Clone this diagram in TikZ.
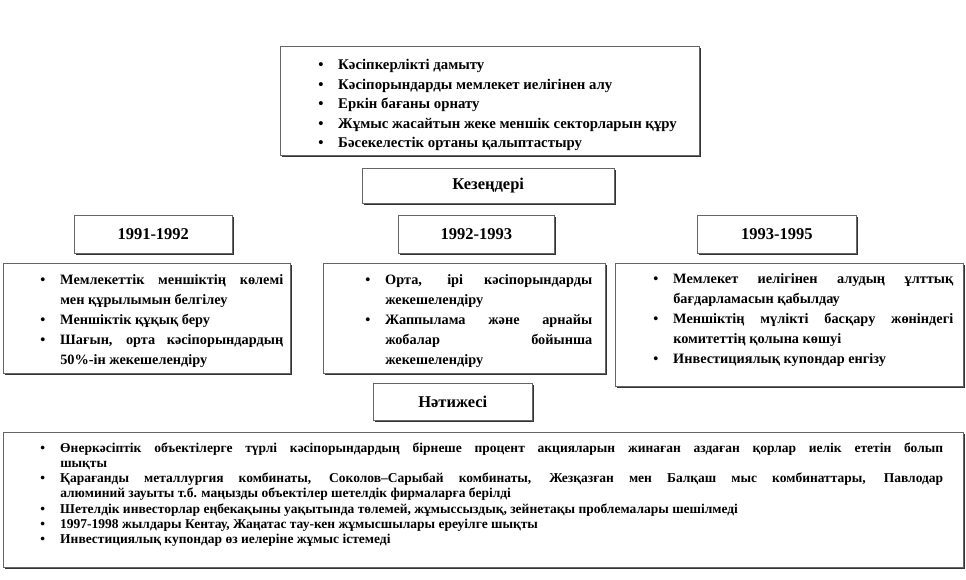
\documentclass[tikz,border=0pt]{standalone}
\usepackage{fontspec}
\setmainfont{Liberation Serif}
\usetikzlibrary{shadows}
\tikzset{
  panel/.style={draw=black!60, line width=0.5pt, fill=white,
    drop shadow={shadow xshift=1.6pt, shadow yshift=-1.6pt, opacity=1, fill=black!80},
    inner sep=0pt, anchor=north west, align=justify, font=\bfseries},
  tag/.style={panel, align=center, font=\bfseries\fontsize{16.5}{18}\selectfont}
}
% bullet item with hanging bullet
\newcommand{\bitem}{\par\noindent\llap{\makebox[20pt][l]{\textbullet}}}

\begin{document}
\begin{tikzpicture}[x=1pt, y=-1pt]
  \useasboundingbox (0,0) rectangle (966,579);
  % goals
  \node[panel, text width=419pt, minimum height=109pt] (goals) at (280,46)
    {\fontsize{14.8}{19.5}\selectfont\leftskip=58pt\rightskip=0pt plus 1fil
     \bitem Кәсіпкерлікті дамыту
     \bitem Кәсіпорындарды мемлекет иелігінен алу
     \bitem Еркін бағаны орнату
     \bitem Жұмыс жасайтын жеке меншік секторларын құру
     \bitem Бәсекелестік ортаны қалыптастыру\par};
  \node[tag, minimum width=252pt, minimum height=35pt] (stages) at (362,168) {Кезеңдері};
  % periods
  \node[tag, minimum width=158pt, minimum height=38pt] (p1) at (74,215) {1991-1992};
  \node[tag, minimum width=156pt, minimum height=38pt] (p2) at (398,215) {1992-1993};
  \node[tag, minimum width=159pt, minimum height=38pt] (p3) at (697,215) {1993-1995};
  % steps of each period
  \node[panel, text width=287pt, minimum height=110pt] (s1) at (3,263)
    {\fontsize{14.3}{20}\selectfont\leftskip=57pt\rightskip=7pt
     \bitem Мемлекеттік меншіктің көлемі\linebreak мен құрылымын белгілеу
     \bitem Меншіктік құқық беру
     \bitem Шағын, орта кәсіпорындардың\linebreak 50\%-ін жекешелендіру\par\kern4pt};
  \node[panel, text width=282pt, minimum height=110pt] (s2) at (323,263)
    {\fontsize{14.3}{20}\selectfont\leftskip=62pt\rightskip=13pt
     \bitem Орта, ірі кәсіпорындарды\linebreak жекешелендіру
     \bitem Жаппылама және арнайы\linebreak жобалар бойынша\linebreak жекешелендіру\par\kern4pt};
  \node[panel, text width=348pt, minimum height=122pt] (s3) at (615,263)
    {\fontsize{14.3}{20}\selectfont\leftskip=58pt\rightskip=10pt
     \bitem Мемлекет иелігінен алудың ұлттық\linebreak бағдарламасын қабылдау
     \bitem Меншіктің мүлікті басқару жөніндегі\linebreak комитеттің қолына көшуі
     \bitem Инвестициялық купондар енгізу\par\kern20pt};
  % results
  \node[tag, minimum width=159pt, minimum height=37pt] (result) at (373,383) {Нәтижесі};
  \node[panel, text width=960pt, minimum height=135pt] (effects) at (3,432)
    {\fontsize{13.5}{15.3}\selectfont\leftskip=57pt\rightskip=20pt
     \bitem Өнеркәсіптік объектілерге түрлі кәсіпорындардың бірнеше процент акцияларын жинаған аздаған қорлар иелік ететін болып\linebreak шықты
     \bitem Қарағанды металлургия комбинаты, Соколов–Сарыбай комбинаты, Жезқазған мен Балқаш мыс комбинаттары, Павлодар\linebreak алюминий зауыты т.б. маңызды объектілер шетелдік фирмаларға берілді
     \bitem Шетелдік инвесторлар еңбекақыны уақытында төлемей, жұмыссыздық, зейнетақы проблемалары шешілмеді
     \bitem 1997-1998 жылдары Кентау, Жаңатас тау-кен жұмысшылары ереуілге шықты
     \bitem Инвестициялық купондар өз иелеріне жұмыс істемеді\par\kern16pt};
\end{tikzpicture}
\end{document}
